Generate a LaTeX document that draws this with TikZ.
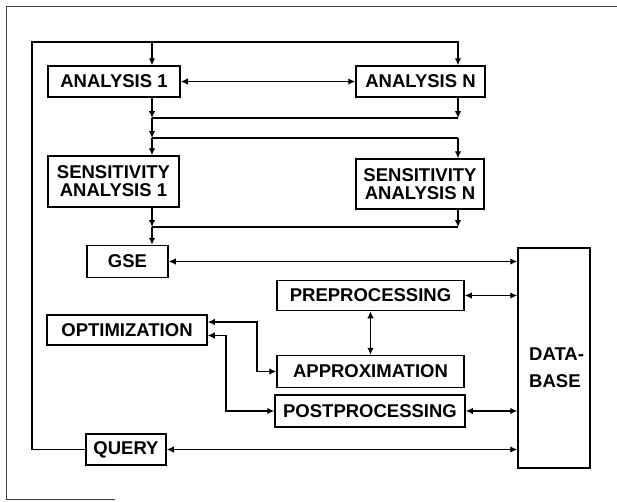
\documentclass[tikz,border=0pt]{standalone}
\usepackage{fontspec}
\setmainfont{Liberation Sans}
\usetikzlibrary{arrows.meta}
\begin{document}
\begin{tikzpicture}[x=1pt,y=-1pt,
  box/.style={draw,line width=1.5pt,inner sep=0pt,align=center,
    font=\fontsize{18.5}{18}\selectfont\bfseries},
  conn/.style={line width=1.3pt},
  tip/.style={conn,-{Latex[length=7pt,width=6.5pt]}},
  tips/.style={conn,{Latex[length=7pt,width=6.5pt]}-{Latex[length=7pt,width=6.5pt]}},
  frame/.style={line width=0.8pt,black!75}]
\useasboundingbox (0,0) rectangle (617,501);
% outer frame (as scanned)
\draw[frame] (6,499) -- (6,6) -- (617,6);
\draw[frame] (6,499) -- (115,499);
% nodes
\node[box,minimum width=132pt,minimum height=31pt] (a1) at (114,81.5) {ANALYSIS 1};
\node[box,minimum width=129pt,minimum height=31pt] (aN) at (420.5,81.5) {ANALYSIS N};
\node[box,minimum width=131pt,minimum height=51pt] (s1) at (113.5,181.5) {SENSITIVITY\\ANALYSIS 1};
\node[box,minimum width=128pt,minimum height=50pt] (sN) at (420,184) {SENSITIVITY\\ANALYSIS N};
\node[box,minimum width=81pt,minimum height=32pt] (gse) at (127.5,261.5) {GSE};
\node[box,minimum width=187pt,minimum height=30pt] (pre) at (370.5,295.5) {PREPROCESSING};
\node[box,minimum width=160pt,minimum height=30pt] (opt) at (127,330) {OPTIMIZATION};
\node[box,minimum width=187pt,minimum height=32pt] (apx) at (370.5,371.5) {APPROXIMATION};
\node[box,minimum width=190pt,minimum height=32pt] (post) at (370,411) {POSTPROCESSING};
\node[box,minimum width=80pt,minimum height=31pt] (query) at (126,449.5) {QUERY};
\node[box,minimum width=72pt,minimum height=220pt] (db) at (554,358) {};
\node[font=\fontsize{18.5}{27}\selectfont\bfseries,align=left,anchor=west,inner sep=0pt] (dbt) at (529,368) {DATA-\\BASE};
% coordinates
\coordinate (loopL) at (32,42);
\coordinate (busL) at (152,42);
\coordinate (busR) at (458,42);
\coordinate (b2L) at (152,118);
\coordinate (b2R) at (458,118);
\coordinate (b3L) at (152,138);
\coordinate (b3R) at (458,138);
\coordinate (b4L) at (152,227);
\coordinate (b4R) at (458,227);
\coordinate (j1) at (257,371.5);
\coordinate (j2) at (226,411);
% top loop
\draw[tip] (query.west) -| (loopL) -- (busR) -- (busR |- aN.north);
\draw[tip] (busL) -- (busL |- a1.north);
\draw[tips] (a1.east) -- (aN.west);
% bus 2
\draw[tip] (b2L |- a1.south) -- (b2L);
\draw[tip] (b2R |- aN.south) -- (b2R);
\draw[conn] (b2L) -- (b2R);
% bus 3
\draw[tip] (b2L) -- (b3L);
\draw[conn] (b3L) -- (b3R);
\draw[tip] (b3L) -- (b3L |- s1.north);
\draw[tip] (b3R) -- (b3R |- sN.north);
% bus 4
\draw[tip] (b4L |- s1.south) -- (b4L);
\draw[tip] (b4R |- sN.south) -- (b4R);
\draw[conn] (b4L) -- (b4R);
\draw[tip] (b4L) -- (b4L |- gse.north);
% database links
\draw[tips] (gse.east) -- (gse.east -| db.west);
\draw[tips] (pre.east) -- (pre.east -| db.west);
\draw[tips] (post.east) -- (post.east -| db.west);
\draw[tips] (query.east) -- (query.east -| db.west);
\draw[tips] (pre.south) -- (apx.north);
% optimization links
\draw[tips] ([yshift=8pt]opt.east) -| (j1) -- (apx.west);
\draw[tips] ([yshift=-5.5pt]opt.east) -| (j2) -- (post.west);
\end{tikzpicture}
\end{document}
